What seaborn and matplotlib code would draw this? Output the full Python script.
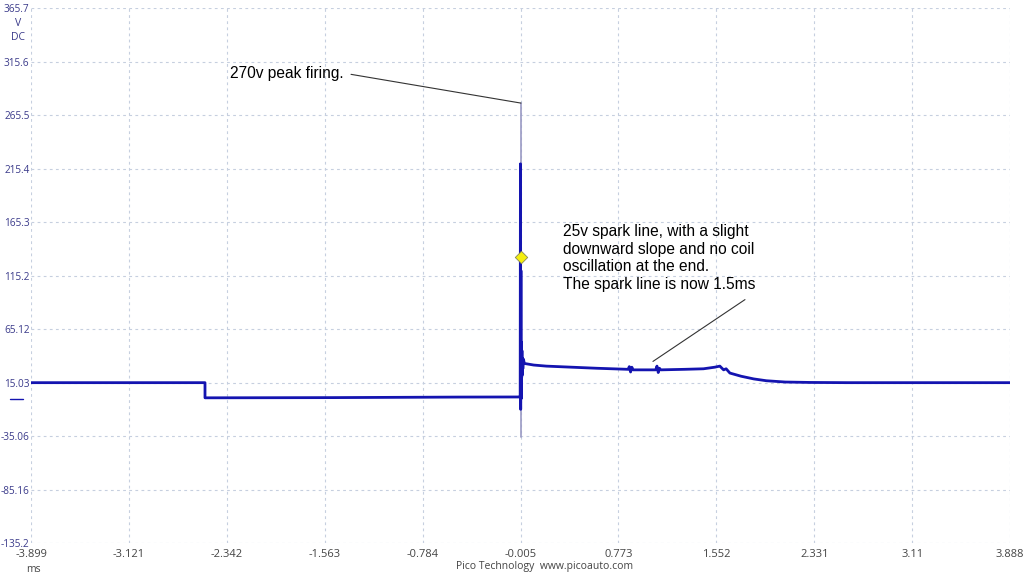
import matplotlib
matplotlib.use("Agg")
import matplotlib.pyplot as plt
import seaborn as sns
import pandas as pd

# ---------------- data ----------------
x_ticks = [-3.899, -3.121, -2.342, -1.563, -0.784, -0.005, 0.773, 1.552, 2.331, 3.11, 3.888]
x_tick_labels = ["-3.899", "-3.121", "-2.342", "-1.563", "-0.784", "-0.005", "0.773",
                 "1.552", "2.331", "3.11", "3.888"]
y_ticks = [365.7, 315.6, 265.5, 215.4, 165.3, 115.2, 65.12, 15.03, -35.06, -85.16, -135.2]
y_tick_labels = ["365.7", "315.6", "265.5", "215.4", "165.3", "115.2", "65.12",
                 "15.03", "-35.06", "-85.16", "-135.2"]

# main trace (ms, volts)
trace_t = [-3.899, -2.515, -2.515, -1.5, -0.5, -0.012, -0.008, -0.006, -0.004, -0.002,
           0.000, 0.002, 0.004, 0.006, 0.008, 0.010, 0.013, 0.018, 0.025, 0.05,
           0.1, 0.2, 0.4, 0.6, 0.85, 0.86, 0.87, 0.88, 0.89, 1.07,
           1.08, 1.09, 1.10, 1.11, 1.3, 1.45, 1.54, 1.58, 1.61, 1.63,
           1.66, 1.75, 1.85, 1.95, 2.1, 2.3, 2.6, 3.888]
trace_v = [15.0, 15.0, 0.8, 1.0, 1.5, 1.6, 1.6, 220, -10, 120,
           0, 53, 20, 45, 22, 38, 28, 37, 33, 32.5,
           31.5, 30.5, 29.5, 28.5, 27.5, 30, 25, 29.5, 27, 27,
           30.5, 24.5, 28.5, 27, 27.5, 28, 29.5, 30.5, 27, 28,
           24, 21, 18.5, 16.8, 15.6, 15.2, 15.0, 15.0]

# fast spike envelope (ms, volts)
spike_t = [-0.004, -0.004]
spike_v = [276.9, -36.1]

# trigger marker
trigger_t = [-0.003]
trigger_v = [133.0]

# ---------------- figure ----------------
sns.set_theme(style="white")
plt.rcParams["font.family"] = ["Open Sans", "DejaVu Sans"]

fig = plt.figure(figsize=(10.24, 5.76), dpi=100)
ax = fig.add_axes([31 / 1024, 1 - 543 / 576, (1010 - 31) / 1024, (543 - 8.3) / 576])
ax.set_facecolor("white")

sns.lineplot(x=spike_t, y=spike_v, ax=ax, color="#9a9ac4", linewidth=1.2,
             sort=False, estimator=None, zorder=3)
sns.lineplot(x=trace_t, y=trace_v, ax=ax, color="#1414b0", linewidth=2.0,
             sort=False, estimator=None, zorder=4)
sns.scatterplot(x=trigger_t, y=trigger_v, ax=ax, marker="D", s=40,
                color="#f4ee10", edgecolor="#8a8a50", linewidth=0.6, zorder=5)

ax.set_xlim(-3.899, 3.888)
ax.set_ylim(-135.2, 365.7)
ax.set_xticks(x_ticks)
ax.set_xticklabels(x_tick_labels)
ax.set_yticks(y_ticks)
ax.set_yticklabels(y_tick_labels)
ax.tick_params(axis="x", labelsize=8, colors="#444444", length=0, pad=4)
ax.tick_params(axis="y", labelsize=7.2, colors="#3a3a8a", length=0, pad=1)
for s in ax.spines.values():
    s.set_visible(False)
ax.grid(True, color="#c6cfdf", linewidth=0.8, linestyle=(0, (2.5, 3)))
ax.set_xlabel("")
ax.set_ylabel("")

# unit labels
fig.text(18 / 1024, 1 - 23 / 576, "V", fontsize=7.5, color="#3a3a8a", ha="center", va="center")
fig.text(18 / 1024, 1 - 38 / 576, "DC", fontsize=7.5, color="#3a3a8a", ha="center", va="center")
fig.text(33 / 1024, 1 - 569 / 576, "ms", fontsize=7.5, color="#444444", ha="center", va="center")
fig.text(545 / 1024, 1 - 567 / 576, "Pico Technology  www.picoauto.com", fontsize=7.5,
         color="#444444", ha="center", va="center")

# zero-level marker
ax.plot([-0.021, -0.008], [0, 0], transform=ax.get_yaxis_transform(),
        color="#1414b0", linewidth=1.0, clip_on=False)

# annotations
ann_font = dict(family=["Liberation Sans", "DejaVu Sans"], fontsize=11.2, color="black")
ax.annotate("270v peak firing.", xy=(-0.002, 276.9), xytext=(-2.316, 305),
            ha="left", va="center", **ann_font,
            arrowprops=dict(arrowstyle="-", color="#333333", lw=0.8,
                            relpos=(1.0, 0.5), shrinkA=3, shrinkB=0))
ax.text(0.333, 163.5,
        "25v spark line, with a slight\ndownward slope and no coil\noscillation at the end.\nThe spark line is now 1.5ms",
        ha="left", va="top", linespacing=1.22, **ann_font)
ax.annotate("", xy=(1.048, 34.9), xytext=(1.780, 92.8),
            arrowprops=dict(arrowstyle="-", color="#333333", lw=0.8,
                            shrinkA=0, shrinkB=0))

fig.savefig("out.png", dpi=100, facecolor="white")
